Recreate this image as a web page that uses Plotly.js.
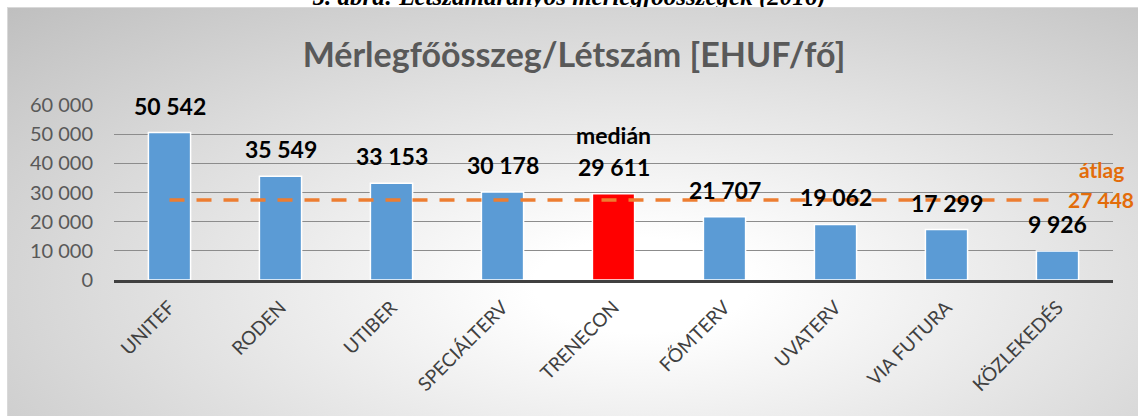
<!DOCTYPE html>
<html>
<head>
<meta charset="utf-8">
<script src="https://cdn.plot.ly/plotly-3.0.1.min.js"></script>
<style>
html,body{margin:0;padding:0;width:1138px;height:416px;overflow:hidden;background:#fff;}
#cap{position:absolute;left:0;width:1138px;top:-16px;text-align:center;font-family:"Liberation Serif","Times New Roman",serif;font-weight:bold;font-style:italic;font-size:25px;line-height:25px;color:#000;white-space:nowrap;}
#bg{position:absolute;left:7px;top:7px;width:1131px;height:409px;border-top:1px solid #d9d9d9;border-left:1px solid #d9d9d9;box-sizing:border-box;
background:radial-gradient(ellipse farthest-corner at 56% 68%, #ffffff 0%, #ffffff 12%, #bfbfbf 100%);}
#chart{position:absolute;left:0;top:0;width:1138px;height:416px;}
</style>
</head>
<body>
<div id="cap">5. ábra: Létszámarányos mérlegfőösszegek (2016)</div>
<div id="bg"></div>
<div id="chart"></div>
<script>
var categories = ["UNITEF","RODEN","UTIBER","SPECIÁLTERV","TRENECON","FŐMTERV","UVATERV","VIA FUTURA","KÖZLEKEDÉS"];
var values = [50542, 35549, 33153, 30178, 29611, 21707, 19062, 17299, 9926];
var averageValue = 27448;
var medianCategory = "TRENECON";
var yTicks = [0, 10000, 20000, 30000, 40000, 50000, 60000];
var titleText = "Mérlegfőösszeg/Létszám [EHUF/fő]";
var medianLabel = "medián";
var averageLabel = "átlag";

function fmt(v){ return String(v).replace(/\B(?=(\d{3})+(?!\d))/g, " "); }

var barColors = categories.map(function(c){ return c === medianCategory ? "#FF0000" : "#5B9BD5"; });

var bars = {
  type: "bar", x: categories, y: values,
  marker: {color: barColors, line: {color: "#ffffff", width: 1.5}},
  width: 0.38, hoverinfo: "x+y", showlegend: false
};
var avgLine = {
  type: "scatter", mode: "lines", x: categories,
  y: categories.map(function(){ return averageValue; }),
  line: {color: "#ED7D31", width: 3.5, dash: "15px,12px"},
  hoverinfo: "y", showlegend: false
};

var annotations = categories.map(function(c, i){
  return {x: c, y: values[i], xref: "x", yref: "y", text: fmt(values[i]), showarrow: false,
    yanchor: "middle", yshift: 27, font: {family: "Lato, Carlito, sans-serif", size: 23, color: "#000", weight: "bold"}};
});
var mi = categories.indexOf(medianCategory);
annotations.push({x: medianCategory, y: values[mi], xref: "x", yref: "y", text: medianLabel, showarrow: false,
  yanchor: "middle", yshift: 59, font: {family: "Lato, Carlito, sans-serif", size: 23, color: "#000", weight: "bold"}});
var last = categories[categories.length - 1];
annotations.push({x: last, y: averageValue, xref: "x", yref: "y", text: fmt(averageValue), showarrow: false,
  yanchor: "middle", xshift: 43, yshift: 0, font: {family: "Lato, Carlito, sans-serif", size: 21, color: "#E36C0A", weight: "bold"}});
annotations.push({x: last, y: averageValue, xref: "x", yref: "y", text: averageLabel, showarrow: false,
  yanchor: "middle", xshift: 44, yshift: 30, font: {family: "Lato, Carlito, sans-serif", size: 21, color: "#E36C0A", weight: "bold"}});

var layout = {
  width: 1138, height: 416,
  margin: {l: 114, r: 25, t: 105, b: 136},
  paper_bgcolor: "rgba(0,0,0,0)", plot_bgcolor: "rgba(0,0,0,0)",
  separators: ", ",
  title: {text: titleText, x: 0.5044, xanchor: "center", y: 0.868, yanchor: "middle", yref: "container",
    font: {family: "Lato, Carlito, sans-serif", size: 34, color: "#595959", weight: "bold"}},
  xaxis: {type: "category", range: [-0.5, categories.length - 0.5], showline: true, linecolor: "#404040", linewidth: 3, showgrid: false,
    tickangle: -45, tickfont: {family: "Lato, Carlito, sans-serif", size: 19, color: "#404040"},
    ticks: "", ticklabelstandoff: 6, fixedrange: true},
  yaxis: {range: [0, 60000], tickvals: yTicks, ticktext: yTicks.map(fmt), showline: false, zeroline: false,
    showgrid: true, gridcolor: "#8c8c8c", gridwidth: 1,
    tickfont: {family: "Lato, Carlito, sans-serif", size: 20, color: "#595959"},
    ticks: "", ticklabelstandoff: 20, fixedrange: true},
  annotations: annotations,
  bargap: 0.62
};
Plotly.newPlot("chart", [bars, avgLine], layout, {displayModeBar: false, staticPlot: true});
</script>
</body>
</html>
